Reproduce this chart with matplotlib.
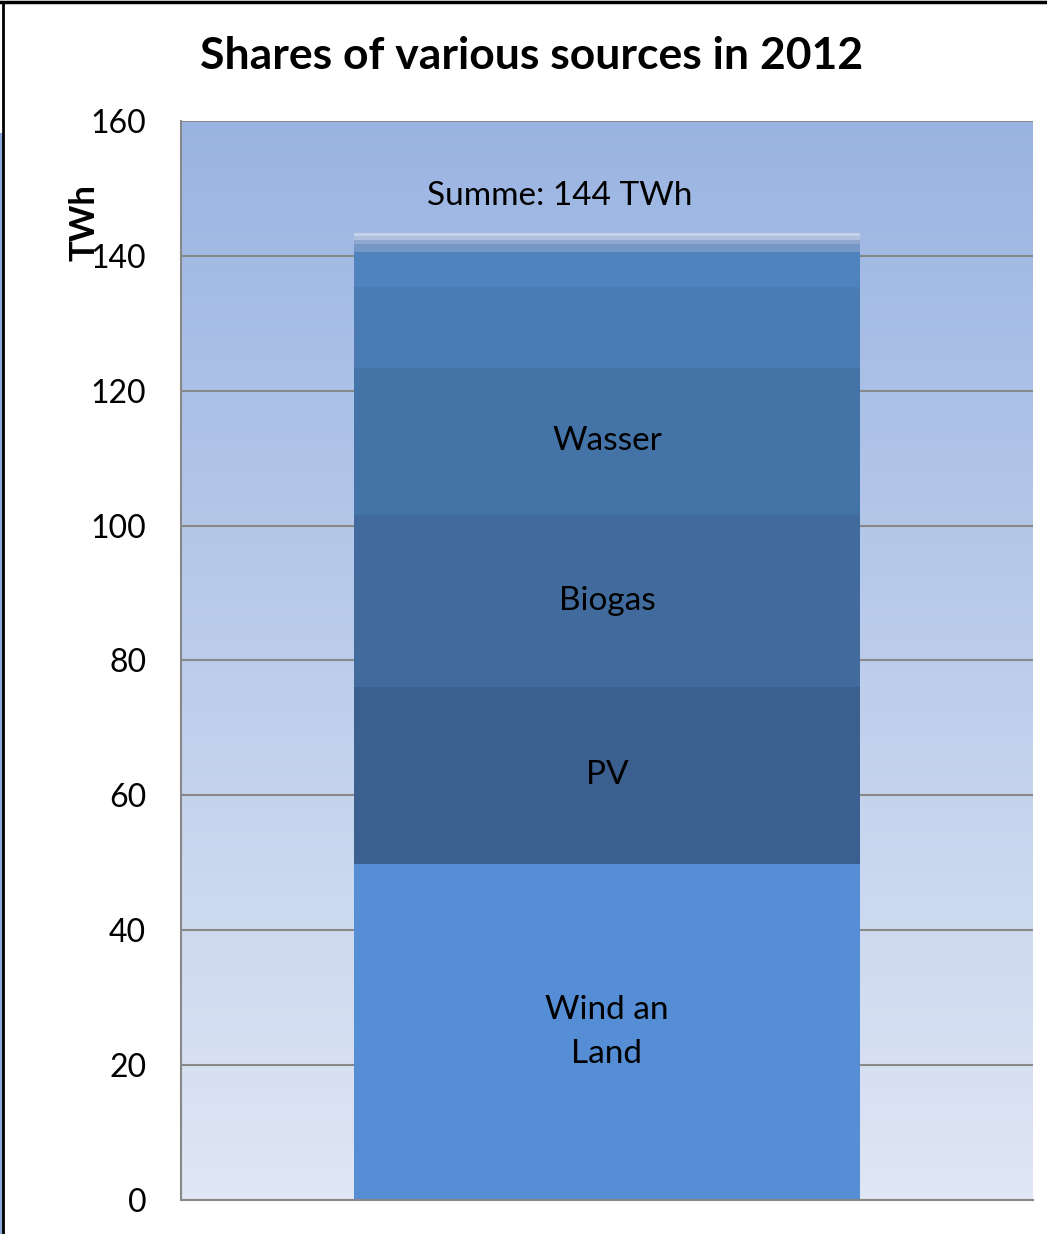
import numpy as np
import matplotlib
matplotlib.use('Agg')
import matplotlib.pyplot as plt
from matplotlib.colors import LinearSegmentedColormap
from matplotlib.patches import Rectangle

plt.rcParams['font.family'] = ['Lato', 'DejaVu Sans']

# stacked segments of the single 2012 bar (TWh), bottom to top
segments = ['Wind an\nLand', 'PV', 'Biogas', 'Wasser', '', '', '', '', '', '']
values = [49.8, 26.3, 25.5, 21.8, 12.0, 5.1, 1.3, 0.6, 0.6, 0.45]
colors = ['#558ed5', '#3b5f8e', '#416b9c', '#4473a7', '#4a7cb3',
          '#4f83bd', '#7597c7', '#90a7d0', '#b2c0e0', '#c5d2ee']
yticks = [0, 20, 40, 60, 80, 100, 120, 140, 160]
total_label = 'Summe: 144 TWh'
title = 'Shares of various sources in 2012'

fig = plt.figure(figsize=(10.47, 12.34), dpi=100)
ax = fig.add_axes([0.1729, 0.0276, 0.8137, 0.8744])

# gradient background of the plot area
grad = LinearSegmentedColormap.from_list('bg', ['#dfe6f4', '#9ab4e2'])
ax.imshow(np.linspace(0, 1, 256).reshape(-1, 1), cmap=grad, aspect='auto',
          extent=[0, 1, 0, 160], origin='lower', zorder=0)

ax.set_xlim(0, 1)
ax.set_ylim(0, 160)
ax.set_yticks(yticks)
ax.set_xticks([])
ax.grid(axis='y', color='#888888', linewidth=1.5, zorder=1)
ax.set_axisbelow(True)
ax.tick_params(axis='y', length=0, pad=25, labelsize=23)
for s in ('top', 'right'):
    ax.spines[s].set_visible(False)
for s in ('left', 'bottom'):
    ax.spines[s].set_color('#888888')
    ax.spines[s].set_linewidth(1.5)

bottom = 0.0
for lab, v, c in zip(segments, values, colors):
    ax.bar(0.5, v, width=0.595, bottom=bottom, color=c, linewidth=0, zorder=2)
    if lab:
        ax.text(0.5, bottom + v / 2, lab, ha='center', va='center',
                fontsize=24, color='black', linespacing=1.55, zorder=3)
    bottom += v

ax.text(0.445, 148.9, total_label, ha='center', va='center', fontsize=24, zorder=3)

fig.text(0.508, 0.955, title, ha='center', va='center', fontsize=32, fontweight='bold')
fig.text(0.081, 0.82, 'TWh', ha='center', va='center', rotation=90,
         fontsize=25, fontweight='bold')

# frame of the surrounding slide
fig.add_artist(Rectangle((0, 0), 0.0025, 1 - 133 / 1234, transform=fig.transFigure,
                         facecolor='#8eaadb', edgecolor='none'))
fig.add_artist(plt.Line2D([0.0033, 0.0033], [0, 0.998], transform=fig.transFigure,
                          color='black', linewidth=2))
fig.add_artist(plt.Line2D([0, 1], [0.9985, 0.9985], transform=fig.transFigure,
                          color='black', linewidth=2.5))

fig.savefig('out.png', dpi=100)
